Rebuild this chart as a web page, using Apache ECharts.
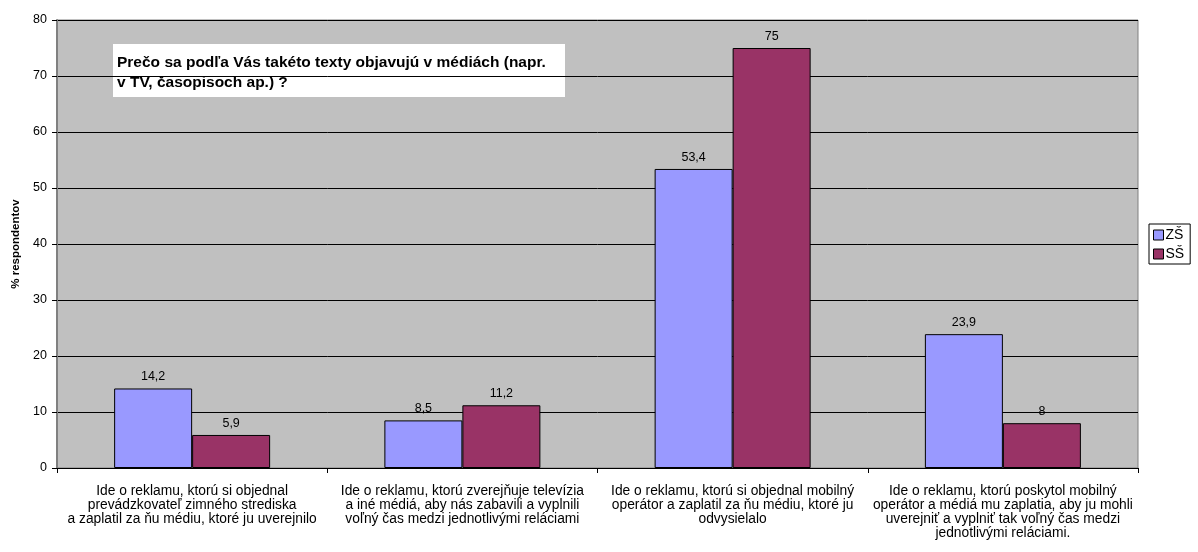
<!DOCTYPE html>
<html>
<head>
<meta charset="utf-8">
<script src="https://cdn.jsdelivr.net/npm/echarts@6/dist/echarts.min.js"></script>
<style>
  html, body { margin: 0; padding: 0; background: #ffffff; }
  #chart { width: 1198px; height: 552px; }
</style>
</head>
<body>
<div id="chart"></div>
<script>
// Survey answers: why such texts appear in the media
const categories = [
  'Ide o reklamu, ktorú si objednal\nprevádzkovateľ zimného strediska\na zaplatil za ňu médiu, ktoré ju uverejnilo',
  'Ide o reklamu, ktorú zverejňuje televízia\na iné médiá, aby nás zabavili a vyplnili\nvoľný čas medzi jednotlivými reláciami',
  'Ide o reklamu, ktorú si objednal mobilný\noperátor a zaplatil za ňu médiu, ktoré ju\nodvysielalo',
  'Ide o reklamu, ktorú poskytol mobilný\noperátor a médiá mu zaplatia, aby ju mohli\nuverejniť a vyplniť tak voľný čas medzi\njednotlivými reláciami.'
];
const seriesNames = ['ZŠ', 'SŠ'];
const valuesZS = [14.2, 8.5, 53.4, 23.9];
const valuesSS = [5.9, 11.2, 75, 8];
const yTicks = { min: 0, max: 80, interval: 10 };
const questionLines = [
  'Prečo sa podľa Vás takéto texty objavujú v médiách (napr.',
  'v TV, časopisoch ap.) ?'
];

const FONT = '"Liberation Sans", Arial, sans-serif';
const fmt = v => String(v).replace('.', ',');

const chart = echarts.init(document.getElementById('chart'), null, { renderer: 'canvas' });

function barSeries(name, data, color) {
  return {
    name: name,
    type: 'bar',
    data: data,
    barWidth: 78,
    barGap: '0%',
    itemStyle: { color: color, borderColor: '#000000', borderWidth: 1 },
    label: {
      show: true,
      position: 'top',
      distance: 5,
      color: '#000000',
      fontFamily: FONT,
      fontSize: 12.5,
      formatter: p => fmt(p.value)
    },
    emphasis: { disabled: true }
  };
}

chart.setOption({
  animation: false,
  backgroundColor: '#ffffff',
  textStyle: { fontFamily: FONT },
  grid: {
    left: 57, right: 60, top: 20, bottom: 84,
    containLabel: false,
    outerBoundsMode: 'none',
    show: true,
    backgroundColor: '#C0C0C0',
    borderColor: '#808080',
    borderWidth: 1
  },
  legend: {
    orient: 'vertical',
    left: 1149,
    top: 224,
    backgroundColor: '#ffffff',
    borderColor: '#000000',
    borderWidth: 1,
    borderRadius: 0,
    padding: [4, 6, 3, 4],
    itemWidth: 10,
    itemHeight: 10,
    itemGap: 5,
    icon: 'rect',
    data: seriesNames,
    itemStyle: { borderColor: '#000000', borderWidth: 1 },
    textStyle: { fontFamily: FONT, fontSize: 14, color: '#000000', padding: [0, 0, 0, -3] }
  },
  xAxis: {
    type: 'category',
    data: categories,
    axisLine: { show: true, lineStyle: { color: '#000000', width: 1 } },
    axisTick: { show: true, length: 5, lineStyle: { color: '#000000' } },
    axisLabel: {
      interval: 0,
      margin: 16,
      fontFamily: FONT,
      fontSize: 13.8,
      lineHeight: 14,
      color: '#000000',
      align: 'center'
    }
  },
  yAxis: {
    type: 'value',
    min: yTicks.min,
    max: yTicks.max,
    interval: yTicks.interval,
    name: '% respondentov',
    nameLocation: 'middle',
    nameRotate: 90,
    nameGap: 35,
    nameTextStyle: { fontFamily: FONT, fontSize: 11.5, fontWeight: 'bold', color: '#000000' },
    axisLine: { show: true, lineStyle: { color: '#808080', width: 2 } },
    axisTick: { show: true, length: 5, lineStyle: { color: '#000000' } },
    axisLabel: { fontFamily: FONT, fontSize: 12.5, color: '#000000', margin: 10 },
    splitLine: { show: true, lineStyle: { color: '#000000', width: 1 } }
  },
  graphic: [
    {
      type: 'group',
      left: 113,
      top: 44,
      z: 100,
      children: [
        {
          type: 'rect',
          shape: { x: 0, y: 0, width: 452, height: 53 },
          style: { fill: '#ffffff' }
        },
        {
          type: 'text',
          x: 4,
          y: 9,
          style: {
            text: questionLines.join('\n'),
            fontFamily: FONT,
            fontSize: 15.5,
            fontWeight: 'bold',
            lineHeight: 20,
            fill: '#000000'
          }
        }
      ]
    }
  ],
  series: [
    barSeries(seriesNames[0], valuesZS, '#9999FF'),
    barSeries(seriesNames[1], valuesSS, '#993366')
  ]
});
</script>
</body>
</html>
